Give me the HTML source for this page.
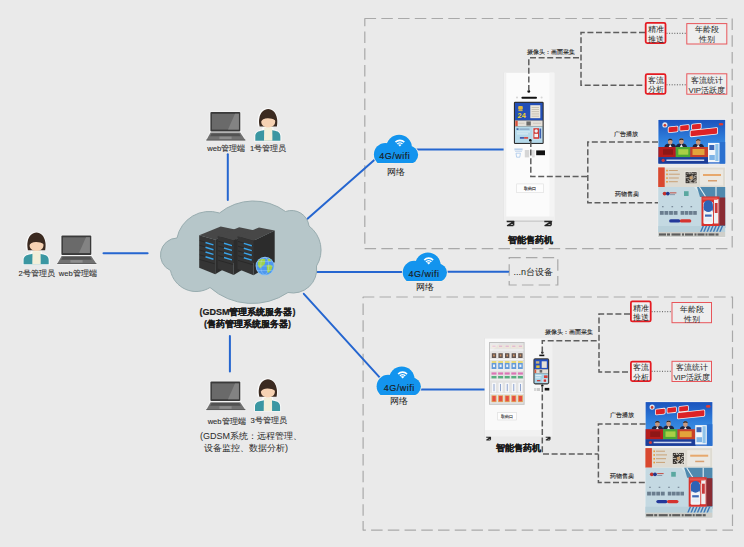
<!DOCTYPE html>
<html><head><meta charset="utf-8">
<style>
html,body{margin:0;padding:0;background:#eaeaea;}
body{width:744px;height:547px;overflow:hidden;position:relative;font-family:"Liberation Sans",sans-serif;}
svg{position:absolute;left:0;top:0;display:block;}
svg text{font-family:"Liberation Sans",sans-serif;}
</style></head><body>
<svg width="744" height="547" viewBox="0 0 744 547">
<defs>
  <linearGradient id="adAg" x1="0" y1="0" x2="0" y2="1"><stop offset="0" stop-color="#1b53bd"/><stop offset="0.45" stop-color="#2f7fdc"/><stop offset="0.62" stop-color="#3a8ce2"/><stop offset="1" stop-color="#2362c8"/></linearGradient>
  <!-- laptop: 39.5 x 28.5 -->
  <g id="laptop">
    <rect x="3.4" y="-0.8" width="31.9" height="30" rx="2" fill="#f4f4f4"/>
    <polygon points="3.8,19.8 35,19.8 40.3,29.1 -0.6,29.1" fill="#f4f4f4"/>
    <rect x="4.4" y="0" width="29.9" height="19.4" rx="1" fill="#3a3a3a"/>
    <rect x="5.9" y="1.8" width="27" height="15.8" fill="#6a6a6a"/>
    <polygon points="22,17.6 29,1.8 32.9,1.8 32.9,17.6" fill="#838383"/>
    <polygon points="4.6,20.6 34.2,20.6 39.4,28.3 0.3,28.3" fill="#727272"/>
    <polygon points="5.6,21.4 33.2,21.4 34.8,24.2 4.1,24.2" fill="#525252"/>
    <rect x="13.4" y="24.6" width="12.2" height="2.6" fill="#8e8e8e"/>
    <rect x="0.3" y="27.6" width="39.1" height="0.9" fill="#5a5a5a"/>
  </g>
  <!-- person: 26 x 32 -->
  <g id="person">
    <path d="M-0.6 32.4 L-0.6 27.5 C-0.6 23 2.5 21.2 6.8 20.6 L8 17.6 L3 17.6 C2.2 14 2.4 11.5 2.8 9.3 C3.9 3 8 -0.9 12.8 -0.9 C17.6 -0.9 21.6 3 22.8 9.3 C23.2 11.5 23.4 14 22.6 17.6 L18 17.6 L18.8 20.6 C23.3 21.2 26.4 23 26.4 27.5 L26.4 32.4 Z" fill="#fafafa"/>
    <path d="M0.3 31.7 V27.6 C0.3 23.6 3 22.2 7.5 21.6 L9.5 21.1 L16.5 21.1 L18.5 21.6 C23 22.2 25.4 23.6 25.4 27.6 V31.7 Z" fill="#3b97a2"/>
    <path d="M9.2 18.6 H17.3 L17.4 31.7 H9 Z" fill="#f3efda"/>
    <path d="M4.6 17.6 C3.9 14 3.9 11.5 4.3 9.5 C5.2 3.5 9 0 13.2 0 C17.5 0 21 3.5 22 9.5 C22.4 11.5 22.5 14 21.9 17.6 Z" fill="#3b2a20"/>
    <path d="M6.2 12.4 C6.2 16 9 18.4 13.2 18.4 C17.4 18.4 20.2 16 20.2 12.4 C20.2 10 18 8.8 13.2 8.8 C8.5 8.8 6.2 10 6.2 12.4 Z" fill="#f6d2b3"/>
    <path d="M5.8 13.2 C6.6 10.6 9.5 9.2 13 9.3 C15.6 9.4 18.6 10 20.6 11.6 L20.6 6 L5.8 6 Z" fill="#3b2a20"/>
  </g>
  <!-- wifi cloud: 44 x 28.5 -->
  <clipPath id="wclip"><rect x="-3" y="-3" width="52" height="31.1"/></clipPath>
  <clipPath id="wclip2"><rect x="-3" y="-3" width="52" height="32"/></clipPath>
  <g id="wcloud">
    <g fill="#f4efe6" clip-path="url(#wclip2)">
      <circle cx="11.5" cy="19.5" r="12.3"/>
      <circle cx="25.2" cy="12.5" r="13.6"/>
      <circle cx="35.3" cy="19.8" r="9.8"/>
    </g>
    <g fill="#1394ee" clip-path="url(#wclip)">
      <circle cx="11.5" cy="19.5" r="11.5"/>
      <circle cx="25.2" cy="12.5" r="12.8"/>
      <circle cx="35.3" cy="19.8" r="9"/>
      <rect x="11.5" y="12.5" width="24" height="16"/>
    </g>
    <path d="M26 11.6 L21 6.6 A7.07 7.07 0 0 1 31 6.6 Z" fill="#fff"/>
    <g fill="none" stroke="#1394ee">
      <path d="M22.25 8.45 A4.9 4.9 0 0 1 29.75 8.45" stroke-width="1.05"/>
      <path d="M23.93 9.86 A2.7 2.7 0 0 1 28.07 9.86" stroke-width="0.9"/>
    </g>
  </g>
</defs>

<!-- dashed boxes -->
<g fill="none" stroke="#a9a9a9" stroke-width="1.2" stroke-dasharray="11.5 5.23">
  <path d="M364.6 18.5 H732.6"/>
  <path d="M364.8 18.5 V249" stroke-dashoffset="3.75"/>
  <path d="M364.6 248.7 H732.6"/>
  <path d="M732.2 18.5 V249"/>
  <path d="M362.8 297 H733"/>
  <path d="M363.1 297 V530.6" stroke-dashoffset="10.23"/>
  <path d="M363.1 530.2 H733" stroke-dashoffset="8.73"/>
  <path d="M732.5 297 V530.6"/>
  <rect x="509.2" y="257.6" width="48.6" height="27.4"/>
</g>

<!-- blue links -->
<g stroke="#2566d0" stroke-width="2.0" fill="none" stroke-linecap="round">
  <line x1="227.8" y1="154.2" x2="227.8" y2="200"/>
  <line x1="103.5" y1="253.2" x2="147.6" y2="253.2"/>
  <line x1="229.9" y1="336" x2="229.9" y2="371.6"/>
  <line x1="307.5" y1="218.8" x2="376" y2="158.5"/>
  <line x1="415" y1="149.6" x2="504" y2="149.6"/>
  <line x1="317" y1="272" x2="404" y2="272"/>
  <line x1="445" y1="271.8" x2="508.2" y2="271.8"/>
  <line x1="303.8" y1="293.8" x2="381" y2="378.8"/>
  <line x1="418" y1="389.5" x2="485" y2="389.5"/>
</g>

<!-- server cloud -->
<path d="M170.5 270.5 A17.0 17.0 0 0 1 177 238 A33.1 33.1 0 0 1 219.5 213 A54.0 54.0 0 0 1 285.5 211.5 A17.7 17.7 0 0 1 309 226 A30.1 30.1 0 0 1 316.5 266 A23.8 23.8 0 0 1 288 292.5 A63.7 63.7 0 0 1 210 287.5 A26.1 26.1 0 0 1 170.5 270.5 Z" fill="#b6c6c9" stroke="#98acaf" stroke-width="1"/>

<!-- servers -->
<defs>
  <g id="srv">
    <polygon points="0,0 21.5,-8.8 37.2,-5.6 16,4.5" fill="#474747"/>
    <polygon points="16,4.5 37.2,-5.6 37.2,26.1 16,39" fill="#2c2c2c"/>
    <polygon points="0,0 16,4.5 16,39 0,32.5" fill="#353535"/>
    <g stroke="#262626" stroke-width="0.8">
      <line x1="0.5" y1="5.2" x2="15.5" y2="9.5"/>
      <line x1="0.5" y1="10" x2="15.5" y2="14.3"/>
      <line x1="0.5" y1="14.7" x2="15.5" y2="19"/>
      <line x1="0.5" y1="19.5" x2="15.5" y2="23.8"/>
      <line x1="0.5" y1="24.2" x2="15.5" y2="28.5"/>
    </g>
    <g stroke="#3aa4ea" stroke-width="1.5">
      <line x1="6.3" y1="7.2" x2="14.3" y2="9.6"/>
      <line x1="6.3" y1="12" x2="14.3" y2="14.4"/>
      <line x1="6.3" y1="16.7" x2="14.3" y2="19.1"/>
      <line x1="6.3" y1="21.5" x2="14.3" y2="23.9"/>
    </g>
  </g>
</defs>
<use href="#srv" x="199.2" y="235.3"/>
<use href="#srv" x="217.7" y="236"/>
<use href="#srv" x="237.5" y="236.2"/>
<g>
  <circle cx="265" cy="266.1" r="9.4" fill="#8cc4f4"/>
  <circle cx="265" cy="266.1" r="8.7" fill="#4f98ee"/>
  <path d="M258.5 261 C260.5 258.5 264 258.2 265.5 259.5 C264.5 261.5 266 263 264 265 C262 266 261.5 268.5 259.5 268 C257.5 266 257.2 263 258.5 261 Z" fill="#9fd24a"/>
  <path d="M266.5 265.5 C268.5 264 271.5 264.5 272.5 266.5 C272 269.5 270 272 268 273 C266.5 271 267.5 268.5 266.5 265.5 Z" fill="#9fd24a"/>
  <path d="M267.5 259 C269 258.5 270.5 259.5 271 261 L268.5 261.5 Z" fill="#9fd24a"/>
  <g fill="none" stroke="#bfe0ff" stroke-width="0.4" opacity="0.8">
    <ellipse cx="264.7" cy="266" rx="4" ry="8.6"/>
    <line x1="256.1" y1="266" x2="273.3" y2="266"/>
    <line x1="257.5" y1="261.5" x2="271.9" y2="261.5"/>
    <line x1="257.5" y1="270.5" x2="271.9" y2="270.5"/>
  </g>
</g>

<!-- people + laptops -->
<use href="#laptop" x="206" y="112"/>
<use href="#person" x="255" y="109"/>
<use href="#person" x="23.3" y="232.6"/>
<use href="#laptop" x="57" y="235.5"/>
<use href="#laptop" x="206" y="381.6"/>
<use href="#person" x="254.7" y="379.2"/>

<!-- wifi clouds -->
<use href="#wcloud" x="373.9" y="135"/>
<use href="#wcloud" x="402.7" y="252.8"/>
<use href="#wcloud" x="376.6" y="366.8"/>
<g font-size="9" fill="#1a1a1a" stroke="#1a1a1a" stroke-width="0.15" text-anchor="middle" letter-spacing="0.5">
  <text x="394.8" y="159">4G/wifi</text>
  <text x="424" y="277.2">4G/wifi</text>
  <text x="399.2" y="391.2">4G/wifi</text>
</g>

<!-- machine 1 kiosk -->
<g>
  <rect x="503.6" y="72.2" width="51.4" height="148.8" fill="#e4e4e4"/>
  <rect x="504.2" y="72.6" width="50.2" height="148" fill="#fbfbfb"/>
  <rect x="504.2" y="72.6" width="2" height="148" fill="#f0f0f0"/>
  <rect x="549.5" y="72.6" width="4.9" height="148" fill="#f4f4f4"/>
  <rect x="504.2" y="216.5" width="50.2" height="4.1" fill="#efefef"/>
  <!-- wheels -->
  <rect x="506" y="220.4" width="47" height="1.6" fill="#cfcfcf"/>
  <g fill="none" stroke="#262626" stroke-width="1.5" stroke-linejoin="round">
    <path d="M506.8 221.6 H513.8 L507.6 225.6 H513.4 M513.6 221.3 V225.4"/>
    <path d="M544.3 221.6 H551.3 L545.1 225.6 H550.9 M551.1 221.3 V225.4"/>
  </g>
  <!-- camera -->
  <circle cx="528.8" cy="91.4" r="1.4" fill="#111"/>
  <rect x="521.4" y="96.7" width="15.6" height="2" rx="1" fill="#111"/>
  <circle cx="517" cy="97.6" r="1" fill="#d4d4d4"/>
  <circle cx="541.6" cy="97.6" r="1" fill="#d4d4d4"/>
  <!-- screen -->
  <rect x="513.9" y="101.8" width="29.8" height="42.2" rx="1.2" fill="#2e2e2e"/>
  <rect x="515" y="102.9" width="27.6" height="17.6" fill="#2450b8"/>
  <rect x="518.2" y="106" width="4.6" height="3.8" rx="1" fill="#e4b83a"/>
  <rect x="518.4" y="110.2" width="4.2" height="0.9" fill="#e4c24a"/>
  <text x="517.6" y="118.2" font-size="7.4" font-weight="bold" fill="#f2d42a">24</text>
  <rect x="530.3" y="105.2" width="10" height="13" fill="#ebe7dc"/>
  <g fill="#b9b2a4"><rect x="531.6" y="107" width="7.4" height="0.7"/><rect x="531.6" y="109.2" width="7.4" height="0.7"/><rect x="531.6" y="111.4" width="7.4" height="0.7"/><rect x="531.6" y="113.6" width="7.4" height="0.7"/><rect x="531.6" y="115.8" width="7.4" height="0.7"/></g>
  <rect x="515" y="120.5" width="27.6" height="6" fill="#e4e0da"/>
  <rect x="515.3" y="120.8" width="2.4" height="5.4" fill="#d8513a"/>
  <rect x="526.4" y="121.4" width="4.4" height="4.2" fill="#6a6a6a"/>
  <rect x="518.5" y="122.8" width="6" height="0.8" fill="#c8c0b6"/>
  <rect x="533" y="122.8" width="8" height="0.8" fill="#c8c0b6"/>
  <rect x="515" y="126.5" width="27.6" height="16.4" fill="#b4d9ea"/>
  <rect x="516.5" y="128.3" width="2" height="1.6" fill="#3a5fa8"/>
  <rect x="519.5" y="128.6" width="10" height="1" fill="#7a95b8"/>
  <rect x="517" y="131.5" width="13" height="0.8" fill="#e8f3f8"/>
  <rect x="517" y="133.5" width="11" height="0.8" fill="#e8f3f8"/>
  <rect x="519.9" y="137.1" width="4.2" height="1.6" fill="#3950a8"/>
  <rect x="524.1" y="137.1" width="4" height="1.6" fill="#d4403a"/>
  <rect x="532.5" y="127.4" width="9.3" height="12.1" fill="#d8e6f0"/>
  <rect x="533.4" y="128.2" width="5.6" height="10.6" fill="#cf3a36"/>
  <circle cx="536.2" cy="131" r="1.7" fill="#eef2f6"/>
  <rect x="534.4" y="133.8" width="3.6" height="3.4" fill="#f2f2f2"/>
  <rect x="539.4" y="128.5" width="1.8" height="10" fill="#3a5fb0"/>
  <circle cx="530.3" cy="140.2" r="1.3" fill="#111"/>
  <!-- below screen -->
  <rect x="514.4" y="148.4" width="8.2" height="2" fill="#bcd2ec"/>
  <rect x="515" y="151" width="7" height="0.8" fill="#c6d8ee"/>
  <path d="M516 153.2 L520.4 153.2 L519.8 157.2 L516.6 157.2 Z" fill="none" stroke="#9cc0e8" stroke-width="0.7"/>
  <rect x="524.8" y="150" width="4.4" height="7.4" fill="#d6d6d6"/>
  <rect x="531.9" y="150" width="2.8" height="7.4" fill="#dedede"/>
  <rect x="536.2" y="150.4" width="8.8" height="4.8" fill="#111"/>
  <!-- pickup -->
  <rect x="516.7" y="183.9" width="26.6" height="8.8" fill="#fdfdfd" stroke="#dddddd" stroke-width="0.6"/>
  <text x="530" y="190" font-size="4.3" fill="#333" stroke="#333" stroke-width="0.15" text-anchor="middle">取药口</text>
</g>

<!-- machine 2 vending -->
<g>
  <rect x="484.5" y="338" width="68.3" height="98.8" fill="#e2e2e2"/>
  <rect x="485" y="338.4" width="67.4" height="98" fill="#f9f9f9"/>
  <rect x="541.3" y="338.4" width="11.1" height="98" fill="#f1f1f1"/>
  <rect x="485" y="430" width="56.3" height="6.4" fill="#f1f1f1"/>
  <rect x="489" y="342" width="35.6" height="62.8" fill="#c2c2c2"/>
  <rect x="490" y="343" width="33.6" height="60.8" fill="#dcdcdc"/>
  <g fill="#f3f3f3"><rect x="490" y="349.5" width="33.6" height="1"/><rect x="490" y="359" width="33.6" height="1"/><rect x="490" y="369.5" width="33.6" height="1"/><rect x="490" y="379.3" width="33.6" height="1"/><rect x="490" y="393" width="33.6" height="1"/></g>
  <g fill="#eadfcf"><rect x="491.2" y="345" width="5.6" height="3.4"/><rect x="497.8" y="345" width="5.6" height="3.4"/><rect x="504.4" y="345" width="5.6" height="3.4"/><rect x="511.0" y="345" width="5.6" height="3.4"/><rect x="517.6" y="345" width="5.6" height="3.4"/></g>
  <g fill="#d9a9c8"><rect x="492.4" y="345.6" width="3.2" height="1.4"/><rect x="499.0" y="345.6" width="3.2" height="1.4"/><rect x="505.6" y="345.6" width="3.2" height="1.4"/><rect x="512.2" y="345.6" width="3.2" height="1.4"/><rect x="518.8" y="345.6" width="3.2" height="1.4"/></g>
  <g fill="#f1ece6"><rect x="491.2" y="352.8" width="5.6" height="5.6"/><rect x="497.8" y="352.8" width="5.6" height="5.6"/><rect x="504.4" y="352.8" width="5.6" height="5.6"/><rect x="511.0" y="352.8" width="5.6" height="5.6"/><rect x="517.6" y="352.8" width="5.6" height="5.6"/></g>
  <g fill="#3b2c27"><rect x="491.8" y="353.2" width="4.4" height="4.8"/><rect x="498.4" y="353.2" width="4.4" height="4.8"/><rect x="505.0" y="353.2" width="4.4" height="4.8"/><rect x="511.6" y="353.2" width="4.4" height="4.8"/><rect x="518.2" y="353.2" width="4.4" height="4.8"/></g>
  <g fill="#c2783e"><rect x="493.2" y="354.5" width="1.6" height="2"/><rect x="499.8" y="354.5" width="1.6" height="2"/><rect x="506.4" y="354.5" width="1.6" height="2"/><rect x="513.0" y="354.5" width="1.6" height="2"/><rect x="519.6" y="354.5" width="1.6" height="2"/></g>
  <g fill="#eef2f6"><rect x="491.2" y="361" width="5.6" height="8.2"/><rect x="497.8" y="361" width="5.6" height="8.2"/><rect x="504.4" y="361" width="5.6" height="8.2"/><rect x="511.0" y="361" width="5.6" height="8.2"/><rect x="517.6" y="361" width="5.6" height="8.2"/></g>
  <g fill="#e0cf5a"><rect x="491.6" y="361" width="4.8" height="2"/><rect x="498.2" y="361" width="4.8" height="2"/><rect x="504.8" y="361" width="4.8" height="2"/><rect x="511.4" y="361" width="4.8" height="2"/><rect x="518.0" y="361" width="4.8" height="2"/></g>
  <g fill="#3f83cf"><rect x="491.6" y="363" width="4.8" height="6"/><rect x="498.2" y="363" width="4.8" height="6"/><rect x="504.8" y="363" width="4.8" height="6"/><rect x="511.4" y="363" width="4.8" height="6"/><rect x="518.0" y="363" width="4.8" height="6"/></g>
  <g fill="#e8eef6"><rect x="493.0" y="364.5" width="2.0" height="2.6"/><rect x="499.6" y="364.5" width="2.0" height="2.6"/><rect x="506.2" y="364.5" width="2.0" height="2.6"/><rect x="512.8" y="364.5" width="2.0" height="2.6"/><rect x="519.4" y="364.5" width="2.0" height="2.6"/></g>
  <g fill="#d253a3"><rect x="491.5" y="372.4" width="5.0" height="2.2"/><rect x="498.1" y="372.4" width="5.0" height="2.2"/><rect x="504.7" y="372.4" width="5.0" height="2.2"/><rect x="511.3" y="372.4" width="5.0" height="2.2"/><rect x="517.9" y="372.4" width="5.0" height="2.2"/></g>
  <g fill="#2f9c5f"><rect x="491.5" y="376" width="5.0" height="2.4"/><rect x="498.1" y="376" width="5.0" height="2.4"/><rect x="504.7" y="376" width="5.0" height="2.4"/><rect x="511.3" y="376" width="5.0" height="2.4"/><rect x="517.9" y="376" width="5.0" height="2.4"/></g>
  <g fill="#f4f6f9"><rect x="492.0" y="382.8" width="4.0" height="9.6"/><rect x="498.6" y="382.8" width="4.0" height="9.6"/><rect x="505.2" y="382.8" width="4.0" height="9.6"/><rect x="511.8" y="382.8" width="4.0" height="9.6"/><rect x="518.4" y="382.8" width="4.0" height="9.6"/></g>
  <g fill="#5676b6"><rect x="493.6" y="384" width="0.8" height="7.2"/><rect x="500.2" y="384" width="0.8" height="7.2"/><rect x="506.8" y="384" width="0.8" height="7.2"/><rect x="513.4" y="384" width="0.8" height="7.2"/><rect x="520.0" y="384" width="0.8" height="7.2"/></g>
  <g fill="#dd8a2e"><rect x="491.5" y="395.3" width="5.0" height="6.8"/><rect x="498.1" y="395.3" width="5.0" height="6.8"/><rect x="504.7" y="395.3" width="5.0" height="6.8"/><rect x="511.3" y="395.3" width="5.0" height="6.8"/><rect x="517.9" y="395.3" width="5.0" height="6.8"/></g>
  <g fill="#df2417"><rect x="492.4" y="396" width="3.2" height="5.2"/><rect x="499.0" y="396" width="3.2" height="5.2"/><rect x="505.6" y="396" width="3.2" height="5.2"/><rect x="512.2" y="396" width="3.2" height="5.2"/><rect x="518.8" y="396" width="3.2" height="5.2"/></g>
  <rect x="490" y="343" width="33.6" height="60.8" fill="#ffffff" opacity="0.2"/>
  <polygon points="490,343 500,343 490,353" fill="#ffffff" opacity="0.25"/>
  <rect x="497.7" y="412.4" width="18.9" height="7.6" fill="#fdfdfd" stroke="#dadada" stroke-width="0.6"/>
  <text x="507.2" y="417.8" font-size="3.8" fill="#333" stroke="#333" stroke-width="0.12" text-anchor="middle">取药口</text>
  <!-- side screen -->
  <circle cx="542.3" cy="352.6" r="1.2" fill="#111"/>
  <rect x="539.3" y="354.6" width="5" height="1.6" fill="#111"/>
  <rect x="533.4" y="358.2" width="15.8" height="26.2" rx="1.8" fill="#3a3a3a"/>
  <rect x="534.5" y="359.4" width="13.6" height="9.9" fill="#2450c0"/>
  <rect x="541.7" y="361.3" width="5.1" height="6.6" fill="#e6e2d8"/>
  <rect x="535.9" y="361.2" width="3.4" height="2.4" fill="#c9b27a"/>
  <rect x="536.2" y="365.4" width="3.4" height="2.5" fill="#e6c43a"/>
  <rect x="534.5" y="369.3" width="13.6" height="4.1" fill="#e2ded8"/>
  <rect x="534.6" y="369.6" width="1.6" height="3.4" fill="#d8583a"/>
  <rect x="539.6" y="370" width="2.6" height="2.6" fill="#6a6a6a"/>
  <rect x="534.5" y="373.4" width="13.6" height="9.8" fill="#a6d2e6"/>
  <rect x="544" y="375.4" width="3.6" height="2.6" fill="#d4403a"/>
  <rect x="535.5" y="375.2" width="6" height="0.9" fill="#eaf4f8"/>
  <rect x="535.5" y="377.4" width="5" height="0.9" fill="#eaf4f8"/>
  <rect x="537" y="380" width="3.4" height="1.3" fill="#cf3a38"/>
  <rect x="542.6" y="378.8" width="4.6" height="3.6" fill="#e8eef4"/>
  <rect x="543.6" y="379.4" width="2.6" height="2.4" fill="#c8383a"/>
  <circle cx="542.3" cy="385.6" r="1.2" fill="#111"/>
  <rect x="534" y="388" width="2.5" height="3" fill="#d6d6d6"/>
  <rect x="537" y="388" width="3" height="3" fill="#cacaca"/>
  <rect x="544.7" y="387.9" width="4.6" height="2.6" fill="#111"/>
  <!-- casters -->
  <g fill="none" stroke="#262626" stroke-width="1.1" stroke-linejoin="round">
    <path d="M486.2 437.3 H490.6 L486.7 440 H490.4 M490.5 437 V439.8"/>
    <path d="M545.7 437.3 H550.1 L546.2 440 H549.9 M550 437 V439.8"/>
  </g>
</g>

<!-- ads -->
<g id="adA">
  <rect x="657.7" y="119.2" width="68.1" height="45" fill="#f6f6f6"/>
  <rect x="658.4" y="119.9" width="66.8" height="43.7" fill="url(#adAg)"/>
  <circle cx="664.9" cy="124.9" r="2.6" fill="#dfe3ea"/>
  <circle cx="664.9" cy="125.2" r="1.3" fill="#c8382c"/>
  <ellipse cx="721" cy="124.2" rx="2.4" ry="1.3" fill="#e23b30"/>
  <g transform="skewY(-6)" >
    <g fill="#f6f3f3" transform="translate(0 72)">
      <rect x="667.8" y="124.8" width="10.6" height="6.6" rx="1.6"/>
      <rect x="679.4" y="124.6" width="10.2" height="6.4" rx="1.6"/>
      <rect x="691.2" y="124.6" width="10.4" height="6.4" rx="1.6"/>
      <rect x="689.8" y="130.6" width="28.2" height="7.2" rx="1.6"/>
    </g>
    <g fill="#dd2226" transform="translate(0 72)">
      <rect x="668.6" y="125.6" width="9" height="5" rx="0.8"/>
      <rect x="680.2" y="125.4" width="8.6" height="4.8" rx="0.8"/>
      <rect x="692" y="125.4" width="8.8" height="4.8" rx="0.8"/>
      <rect x="690.6" y="131.4" width="26.6" height="5.6" rx="0.8"/>
    </g>
  </g>
  <g fill="#1e2440">
    <path d="M664.5 147 C665 143.5 667.5 143.8 670.2 143.8 C673 143.8 675.5 143.5 676 147 Z"/>
    <path d="M675.8 147 C676.3 143.5 678.8 143.4 681.4 143.4 C684 143.4 686.5 143.5 687 147 Z"/>
    <path d="M692.5 147 C693 143.5 695.5 144 698.2 144 C701 144 703.5 143.5 704 147 Z"/>
  </g>
  <g fill="#eef0f4"><path d="M668.7 147 L670.2 144.3 L671.7 147 Z"/><path d="M679.9 147 L681.4 143.9 L682.9 147 Z"/><path d="M696.7 147 L698.2 144.5 L699.7 147 Z"/></g>
  <g fill="#c9987e"><ellipse cx="670.2" cy="141.6" rx="2.3" ry="2.9"/><ellipse cx="681.4" cy="141.2" rx="2.3" ry="2.9"/><ellipse cx="698.2" cy="141.9" rx="2.3" ry="2.9"/></g>
  <g fill="#2a2220"><path d="M667.9 140.8 C668 138.2 672.4 138.2 672.5 140.8 C671 139.8 669.4 139.8 667.9 140.8 Z"/><path d="M679.1 140.4 C679.2 137.8 683.6 137.8 683.7 140.4 C682.2 139.4 680.6 139.4 679.1 140.4 Z"/><path d="M695.9 141.1 C696 138.5 700.4 138.5 700.5 141.1 C699 140.1 697.4 140.1 695.9 141.1 Z"/></g>
  <rect x="658.4" y="147" width="17.4" height="10.3" fill="#b51c1c"/>
  <rect x="675.8" y="147" width="14.4" height="10.3" fill="#4ea734"/>
  <rect x="690.2" y="147" width="17.8" height="10.3" fill="#c7402a"/>
  <rect x="663" y="149.2" width="10" height="5.5" fill="#8e1717"/>
  <rect x="678.3" y="149.2" width="10" height="5.5" fill="#a9cf45"/>
  <rect x="692.5" y="149" width="12" height="6" fill="#e3a43b"/>
  <rect x="658.4" y="157.2" width="50" height="6.4" fill="#1c3d98"/>
  <circle cx="663.2" cy="160.3" r="1.6" fill="#d23a3a"/>
  <rect x="666.4" y="159.5" width="37.8" height="1.5" fill="#cfd8ef"/>
  <rect x="708" y="142.9" width="11.7" height="19.4" fill="#f2f6fa"/>
  <rect x="709.3" y="145" width="5" height="5" fill="#3a66b6"/>
  <rect x="715.3" y="144" width="3.2" height="17" fill="#8fc3ea"/>
  <rect x="709.3" y="155" width="5.5" height="5" fill="#7db3e6"/>
  <rect x="719.7" y="142" width="5.5" height="21.6" fill="#2a70cf"/>
</g>
<g id="adB">
  <rect x="657.7" y="166.8" width="68.1" height="70.8" fill="#f4f4f4"/>
  <rect x="658.2" y="167.4" width="67" height="19.6" fill="#dedbd2"/>
  <rect x="658.2" y="167.4" width="6.5" height="19.6" fill="#d9482f"/>
  <g fill="#e79a3a"><rect x="666.2" y="169.8" width="1.6" height="1.6"/><rect x="666.2" y="173.5" width="1.6" height="1.6"/><rect x="666.2" y="177.3" width="1.6" height="1.6"/><rect x="666.2" y="181" width="1.6" height="1.6"/></g>
  <g fill="#c9a277"><rect x="668.8" y="170" width="9" height="1"/><rect x="668.8" y="173.7" width="11" height="1"/><rect x="668.8" y="177.5" width="10" height="1"/><rect x="668.8" y="181.2" width="9" height="1"/></g>
  <rect x="684.6" y="171.2" width="13" height="12.4" fill="#e8e5de"/>
  <rect x="685.6" y="172.2" width="11" height="11" fill="#34302c"/>
  <g fill="#ddd8cf"><rect x="688.6" y="172.2" width="1.0" height="1.0"/><rect x="690.6" y="172.2" width="1.0" height="1.0"/><rect x="686.6" y="173.2" width="1.0" height="1.0"/><rect x="688.6" y="173.2" width="1.0" height="1.0"/><rect x="689.6" y="173.2" width="1.0" height="1.0"/><rect x="691.6" y="173.2" width="1.0" height="1.0"/><rect x="692.6" y="173.2" width="1.0" height="1.0"/><rect x="694.6" y="173.2" width="1.0" height="1.0"/><rect x="685.6" y="175.2" width="1.0" height="1.0"/><rect x="691.6" y="175.2" width="1.0" height="1.0"/><rect x="694.6" y="175.2" width="1.0" height="1.0"/><rect x="695.6" y="175.2" width="1.0" height="1.0"/><rect x="691.6" y="176.2" width="1.0" height="1.0"/><rect x="693.6" y="176.2" width="1.0" height="1.0"/><rect x="685.6" y="177.2" width="1.0" height="1.0"/><rect x="686.6" y="177.2" width="1.0" height="1.0"/><rect x="687.6" y="177.2" width="1.0" height="1.0"/><rect x="689.6" y="177.2" width="1.0" height="1.0"/><rect x="691.6" y="177.2" width="1.0" height="1.0"/><rect x="693.6" y="177.2" width="1.0" height="1.0"/><rect x="694.6" y="177.2" width="1.0" height="1.0"/><rect x="692.6" y="178.2" width="1.0" height="1.0"/><rect x="687.6" y="179.2" width="1.0" height="1.0"/><rect x="690.6" y="179.2" width="1.0" height="1.0"/><rect x="691.6" y="179.2" width="1.0" height="1.0"/><rect x="694.6" y="179.2" width="1.0" height="1.0"/><rect x="688.6" y="180.2" width="1.0" height="1.0"/><rect x="689.6" y="180.2" width="1.0" height="1.0"/><rect x="690.6" y="180.2" width="1.0" height="1.0"/><rect x="693.6" y="180.2" width="1.0" height="1.0"/><rect x="695.6" y="180.2" width="1.0" height="1.0"/><rect x="686.6" y="181.2" width="1.0" height="1.0"/><rect x="689.6" y="181.2" width="1.0" height="1.0"/><rect x="694.6" y="181.2" width="1.0" height="1.0"/><rect x="695.6" y="181.2" width="1.0" height="1.0"/><rect x="689.6" y="182.2" width="1.0" height="1.0"/><rect x="690.6" y="182.2" width="1.0" height="1.0"/><rect x="691.6" y="182.2" width="1.0" height="1.0"/><rect x="693.6" y="182.2" width="1.0" height="1.0"/><rect x="694.6" y="182.2" width="1.0" height="1.0"/></g>
  <rect x="689.6" y="176.2" width="3" height="3" fill="#c9a070"/>
  <rect x="700" y="169.5" width="23" height="16" fill="#ebe8e1"/>
  <rect x="703" y="174" width="18" height="2" fill="#e7a86c"/>
  <rect x="708" y="180" width="9" height="1.5" fill="#d8a070"/>
  <rect x="658.2" y="187" width="67" height="49.9" fill="#c4d9e2"/>
  <polygon points="694,187 702,187 712,200 705,200" fill="#d9e8ee"/>
  <polygon points="697,187 725.2,187 725.2,228 719,228 719,197 700,197" fill="#4f89ae"/>
  <g stroke="#e6f0f5" stroke-width="1.1"><line x1="699.5" y1="187" x2="705.5" y2="196.5"/><line x1="716" y1="187" x2="716" y2="196.5"/></g>
  <rect x="658.2" y="226" width="67" height="6" fill="#b8d0da"/>
  <rect x="658.2" y="232" width="67" height="4.9" fill="#cfcfca"/>
  <g fill="#5d5d5d"><rect x="659" y="233.4" width="7" height="2.2"/><rect x="667" y="233.4" width="3" height="2.2"/><rect x="671.5" y="233.4" width="9" height="2.2"/><rect x="682" y="233.4" width="2" height="2.2"/><rect x="685" y="233.4" width="8" height="2.2"/><rect x="694.5" y="233.4" width="2" height="2.2"/><rect x="697.5" y="233.4" width="7" height="2.2"/><rect x="705.5" y="233.4" width="2" height="2.2"/><rect x="708.5" y="233.4" width="6" height="2.2"/><rect x="715.5" y="233.4" width="3" height="2.2"/></g>
  <circle cx="664.6" cy="193.6" r="1.9" fill="#c4312c"/>
  <circle cx="667.8" cy="193.6" r="1.9" fill="#24368a"/>
  <rect x="670" y="192.3" width="6.4" height="1.1" fill="#c45a52"/>
  <rect x="670" y="194.3" width="5" height="0.8" fill="#7a8aa0"/>
  <rect x="684" y="191.2" width="4.6" height="4.8" fill="#5aa8a0"/>
  <g fill="#7d8e9c"><rect x="662.0" y="206" width="1.6" height="1.3"/><rect x="671.5" y="206" width="1.6" height="1.3"/><rect x="681.0" y="206" width="1.6" height="1.3"/><rect x="690.5" y="206" width="1.6" height="1.3"/></g>
  <g fill="#6a7d8e"><rect x="659.9" y="211" width="3.8" height="3.8"/><rect x="664.5" y="211" width="3.8" height="3.8"/><rect x="669.1" y="211" width="3.8" height="3.8"/><rect x="673.7" y="211" width="3.8" height="3.8"/><rect x="680.6" y="211" width="3.6" height="3.8"/><rect x="684.8" y="211" width="3.6" height="3.8"/><rect x="689.0" y="211" width="3.6" height="3.8"/><rect x="693.2" y="211" width="3.6" height="3.8"/></g>
  <rect x="669.1" y="219.2" width="11.2" height="3.4" rx="1.7" fill="#23389a"/>
  <rect x="679.8" y="219.2" width="11.5" height="3.4" rx="1.7" fill="#d5332f"/>
  <g fill="#3f78b8"><path d="M700.0 231.8 L702.5 226 L704.0 226 L701.5 231.8 Z"/><path d="M703.2 231.8 L705.7 226 L707.2 226 L704.7 231.8 Z"/><path d="M706.4 231.8 L708.9 226 L710.4 226 L707.9 231.8 Z"/><path d="M709.6 231.8 L712.1 226 L713.6 226 L711.1 231.8 Z"/><path d="M712.8 231.8 L715.3 226 L716.8 226 L714.3 231.8 Z"/><path d="M716.0 231.8 L718.5 226 L720.0 226 L717.5 231.8 Z"/><path d="M719.2 231.8 L721.7 226 L723.2 226 L720.7 231.8 Z"/></g>
  <rect x="701.5" y="196.5" width="18" height="29.5" fill="#d8322d"/>
  <rect x="719.5" y="197.5" width="5.7" height="28" fill="#8a2b33"/>
  <rect x="703.4" y="201.8" width="9.7" height="22.2" rx="1.5" fill="#f2f4f6"/>
  <path d="M703.8 212 A4.6 4.6 0 0 1 712.8 212 L712.8 204 A4.6 4.6 0 0 0 703.8 204 Z" fill="#2e62b4"/>
  <circle cx="708.3" cy="207.4" r="4.6" fill="#2e62b4"/>
  <rect x="705" y="214.5" width="6.6" height="2.2" fill="#3d69b5"/>
  <rect x="704.5" y="218" width="7.6" height="3.6" rx="1.5" fill="#e7eef5"/>
  <rect x="714" y="199" width="4.4" height="24.5" fill="#eef0f2"/>
  <rect x="714.8" y="203" width="2.8" height="10" fill="#c8383a"/>
  <rect x="702.5" y="197.6" width="15" height="2.2" fill="#e6554e"/>
</g>
<use href="#adA" transform="translate(-12.8 282.2)"/>
<use href="#adB" transform="translate(-12.8 280.7)"/>

<!-- dark dashed connectors -->
<g fill="none" stroke="#5e5e5e" stroke-width="1.5" stroke-dasharray="6 2.6">
  <polyline points="528.8,91 528.8,57.8 581,57.8"/>
  <polyline points="645,32.5 581,32.5 581,85.2 645,85.2"/>
  <polyline points="530.8,141 530.8,176.6 587.8,176.6"/>
  <polyline points="658,142 587.8,142 587.8,202.7 658,202.7"/>
  <polyline points="542.3,352.5 542.3,340.7 599,340.7"/>
  <polyline points="630,314.1 599,314.1 599,371.9 630,371.9"/>
  <polyline points="542.3,386 542.3,454.1 598.4,454.1"/>
  <polyline points="645.6,424 598.4,424 598.4,482.6 645.6,482.6"/>
</g>
<g fill="none" stroke="#555" stroke-width="1" stroke-dasharray="1 1.6">
  <line x1="666.5" y1="33.3" x2="686.3" y2="33.3"/>
  <line x1="666.5" y1="84.8" x2="686.3" y2="84.8"/>
  <line x1="651.6" y1="311.7" x2="671.5" y2="311.7"/>
  <line x1="651.6" y1="371.3" x2="671.5" y2="371.3"/>
</g>

<!-- red boxes -->
<g fill="#f1f1f1" stroke="#e41b22" stroke-width="1.8">
  <rect x="645.7" y="22.8" width="19.8" height="20.3" rx="1.5"/>
  <rect x="645.7" y="74.2" width="19.8" height="19.6" rx="1.5"/>
  <rect x="630.9" y="301.4" width="19.8" height="20" rx="1.5"/>
  <rect x="630.9" y="361.7" width="19.8" height="19.4" rx="1.5"/>
</g>
<g fill="#eeeeee" stroke="#e8565b" stroke-width="1">
  <rect x="686.8" y="23.6" width="40" height="20.4"/>
  <rect x="686.8" y="73.8" width="40" height="20.4"/>
  <rect x="672" y="302.5" width="39.5" height="20.2"/>
  <rect x="672" y="361.3" width="39.5" height="20.2"/>
</g>
<g font-size="7.8" fill="#262626" text-anchor="middle">
  <text x="655.8" y="32.4">精准</text><text x="655.8" y="42">推送</text>
  <text x="655.8" y="82.8">客流</text><text x="655.8" y="92.4">分析</text>
  <text x="706.8" y="32.2">年龄段</text><text x="706.8" y="42.4">性别</text>
  <text x="706.8" y="82.6">客流统计</text><text x="706.8" y="92.6">VIP活跃度</text>
  <text x="640.8" y="310.8">精准</text><text x="640.8" y="320.2">推送</text>
  <text x="640.8" y="370">客流</text><text x="640.8" y="379.6">分析</text>
  <text x="691.7" y="312">年龄段</text><text x="691.7" y="321.6">性别</text>
  <text x="691.7" y="370.2">客流统计</text><text x="691.7" y="379.8">VIP活跃度</text>
</g>
<g font-size="5.7" fill="#222" stroke="#222" stroke-width="0.12" text-anchor="middle">
  <text x="550.8" y="53.6">摄像头：画面采集</text>
  <text x="626.1" y="136">广告播放</text>
  <text x="627" y="196.4">药物售卖</text>
  <text x="568.5" y="334.3">摄像头：画面采集</text>
  <text x="621.5" y="417.4">广告播放</text>
  <text x="621.5" y="477.8">药物售卖</text>
</g>

<!-- texts -->
<g font-size="7.6" fill="#2e2e2e" stroke="#2e2e2e" stroke-width="0.1">
  <text x="226.3" y="150.6" text-anchor="middle">web管理端</text>
  <text x="268.2" y="150.6" text-anchor="middle">1号管理员</text>
  <text x="36.5" y="275.6" text-anchor="middle">2号管理员</text>
  <text x="77.7" y="275.6" text-anchor="middle">web管理端</text>
  <text x="226.6" y="423.6" text-anchor="middle">web管理端</text>
  <text x="268.6" y="422.6" text-anchor="middle">3号管理员</text>
</g>
<g font-size="9" fill="#222">
  <text x="395.65" y="174.7" text-anchor="middle">网络</text>
  <text x="424.65" y="289.9" text-anchor="middle">网络</text>
  <text x="398.8" y="403.7" text-anchor="middle">网络</text>
  <text x="533.2" y="275.1" text-anchor="middle">...n台设备</text>
</g>
<g font-size="9" font-weight="bold" fill="#1a1a1a" stroke="#1a1a1a" stroke-width="0.2">
  <text x="247.5" y="314.5" text-anchor="middle">(GDSM管理系统服务器)</text>
  <text x="247.5" y="327" text-anchor="middle">(售药管理系统服务器)</text>
  <text x="530.4" y="243" text-anchor="middle">智能售药机</text>
  <text x="518.2" y="451" text-anchor="middle">智能售药机</text>
</g>
<g font-size="9" fill="#2a2a2a">
  <text x="251" y="439.3" text-anchor="middle">(GDSM系统：远程管理、</text>
  <text x="246" y="450.8" text-anchor="middle">设备监控、数据分析)</text>
</g>
</svg>
</body></html>
